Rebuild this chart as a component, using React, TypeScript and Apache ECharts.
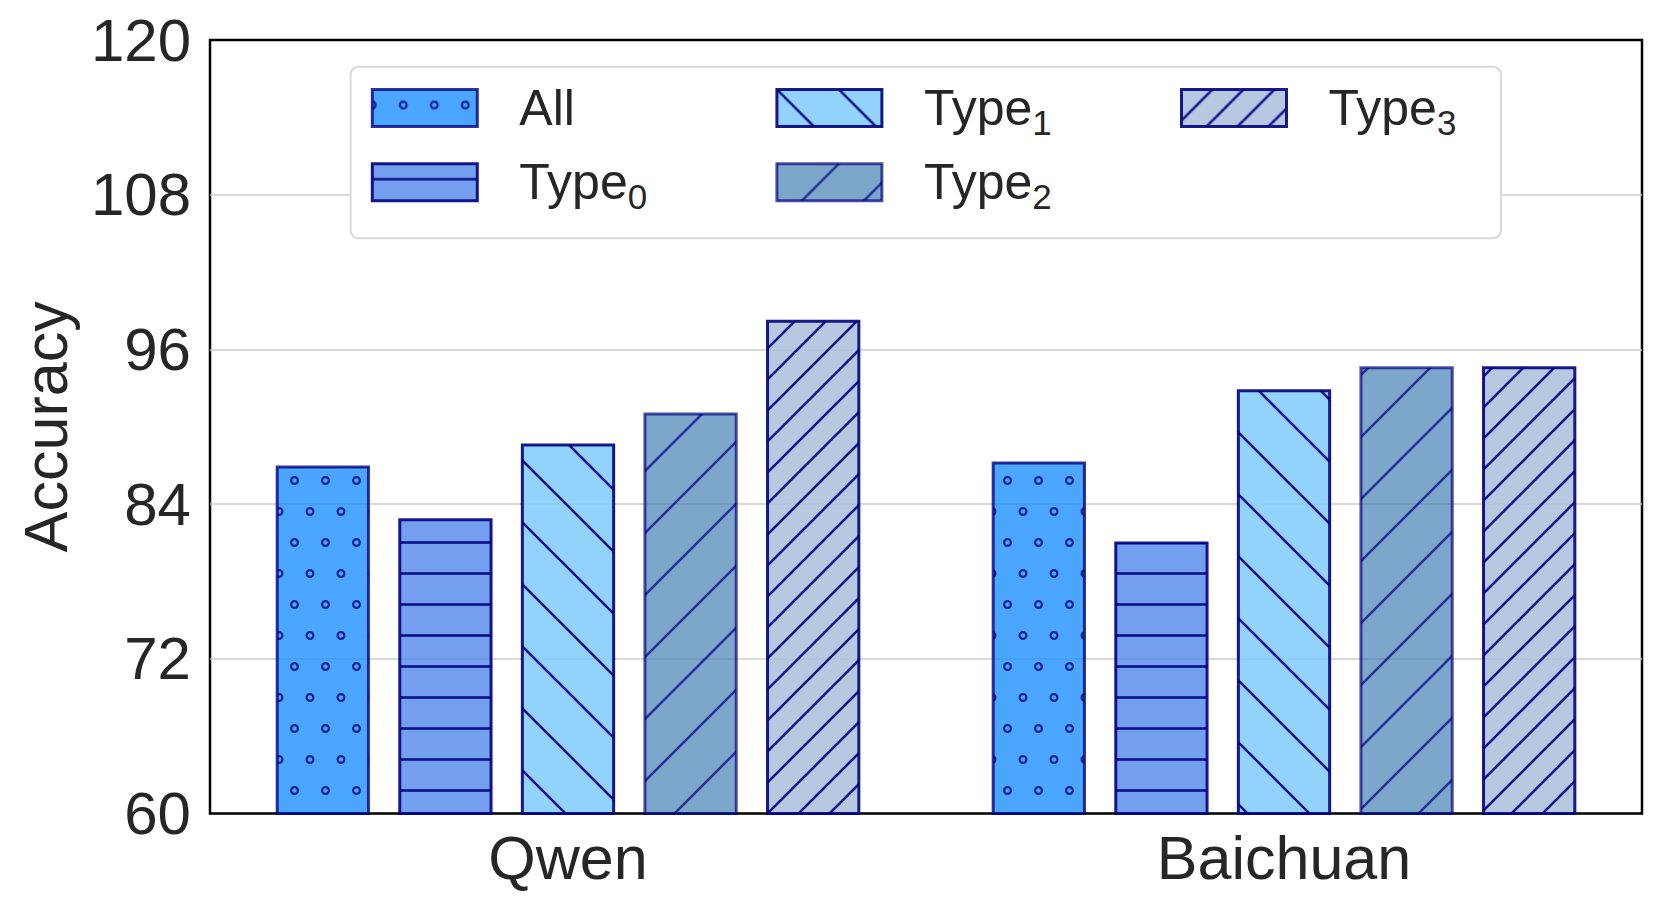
import React, { useEffect, useRef } from 'react';
import * as echarts from 'echarts';

// ---- data ----
const categories = ['Qwen', 'Baichuan'];
const seriesNames = ['All', 'Type0', 'Type1', 'Type2', 'Type3'];
const allValues = [87.0, 87.3];
const type0Values = [82.9, 81.1];
const type1Values = [88.7, 92.9];
const type2Values = [91.1, 94.7];
const type3Values = [98.3, 94.7];
const yTicks = [60, 72, 84, 96, 108, 120];

// ---- styles ----
const FONT = '"Liberation Sans", Arial, sans-serif';
const TEXT = '#262626';
const fillColors = ['#1E90FF', '#6495ED', '#87CEFA', '#4682B4', '#B0C4DE'];
const alphas = [0.8, 0.9, 0.9, 0.7, 0.9];
const hatchKinds = ['dots', 'hline', 'back', 'fwd', 'fwd2'];

function hatchPattern(kind: string, fill: string, alpha: number) {
  const sw = 2.6;
  const lineAttr = `stroke="#000080" stroke-opacity="${alpha}" stroke-width="${sw}" fill="none"`;
  let w = 31;
  let h = 31;
  let inner = '';
  const seg = (x1: number, y1: number, x2: number, y2: number) =>
    `<line x1="${x1}" y1="${y1}" x2="${x2}" y2="${y2}" ${lineAttr}/>`;
  if (kind === 'dots') {
    w = 31;
    h = 62;
    const pts = [
      [0, 15.5],
      [31, 15.5],
      [15.5, 46.5],
    ];
    inner = pts
      .map(
        ([cx, cy]) =>
          `<circle cx="${cx}" cy="${cy}" r="3.4" stroke="#000080" stroke-opacity="${alpha}" stroke-width="2.2" fill="none"/>`
      )
      .join('');
  } else if (kind === 'hline') {
    w = 31;
    h = 31;
    inner = seg(0, 15.5, 31, 15.5);
  } else {
    const s = kind === 'fwd2' ? 31 : 62;
    w = s;
    h = s;
    if (kind === 'back') {
      inner = [-s, 0, s].map((dx) => seg(dx - 1, -1, dx + s + 1, s + 1)).join('');
    } else {
      inner = [-s, 0, s].map((dx) => seg(dx - 1, s + 1, dx + s + 1, -1)).join('');
    }
  }
  const svg = `<svg xmlns="http://www.w3.org/2000/svg" width="${w}" height="${h}"><rect x="0" y="0" width="${w}" height="${h}" fill="${fill}" fill-opacity="${alpha}"/>${inner}</svg>`;
  return {
    image: 'data:image/svg+xml;charset=utf-8,' + encodeURIComponent(svg),
    repeat: 'repeat',
    imageWidth: w,
    imageHeight: h,
  } as any;
}

export default function App() {
  const ref = useRef<HTMLDivElement>(null);

  useEffect(() => {
    if (!ref.current) return;
    const chart = echarts.init(ref.current, undefined, { renderer: 'svg' });
    const values = [allValues, type0Values, type1Values, type2Values, type3Values];
    const patterns = seriesNames.map((_, i) => hatchPattern(hatchKinds[i], fillColors[i], alphas[i]));
    const edges = alphas.map((a) => `rgba(0,0,128,${a})`);

    const legendItem = (i: number) => ({
      name: seriesNames[i],
      itemStyle: { color: patterns[i], borderColor: edges[i], borderWidth: 3 },
    });

    const legendBase = {
      orient: 'vertical',
      top: 76.5,
      padding: 0,
      itemWidth: 105,
      itemHeight: 37,
      itemGap: 11.2,
      icon: 'rect',
      selectedMode: false,
      z: 5,
      formatter: (name: string) =>
        name === 'All' ? '{m|All}{s| }' : `{m|Type}{s|${name.slice(4)}}`,
      textStyle: {
        fontFamily: FONT,
        fontSize: 50,
        color: TEXT,
        padding: [0, 0, 0, 37],
        rich: {
          m: { fontFamily: FONT, fontSize: 50, lineHeight: 64, color: TEXT },
          s: { fontFamily: FONT, fontSize: 35, lineHeight: 36, padding: [28, 0, 0, 0], color: TEXT },
        },
      },
    };

    chart.setOption({
      animation: false,
      grid: {
        left: 210,
        right: 19,
        top: 40,
        bottom: 95.5,
        show: true,
        borderColor: '#000000',
        borderWidth: 2.5,
        backgroundColor: 'transparent',
        outerBoundsMode: 'none',
      },
      graphic: [
        {
          type: 'rect',
          z: 3,
          shape: { x: 350.6, y: 66.7, width: 1150.4, height: 171.6, r: 8 },
          style: { fill: '#ffffff', stroke: '#d9d9d9', lineWidth: 2 },
        },
      ],
      legend: [
        { ...legendBase, left: 370.8, data: [legendItem(0), legendItem(1)] },
        { ...legendBase, left: 775.4, data: [legendItem(2), legendItem(3)] },
        { ...legendBase, left: 1180, data: [legendItem(4)] },
      ],
      xAxis: {
        type: 'category',
        data: categories,
        axisLine: { show: false },
        axisTick: { show: false },
        splitLine: { show: false },
        axisLabel: { fontFamily: FONT, fontSize: 61, color: TEXT, margin: 14 },
      },
      yAxis: {
        type: 'value',
        min: yTicks[0],
        max: yTicks[yTicks.length - 1],
        interval: yTicks[1] - yTicks[0],
        name: 'Accuracy',
        nameLocation: 'middle',
        nameRotate: 90,
        nameGap: 134,
        nameTextStyle: { fontFamily: FONT, fontSize: 61, color: TEXT },
        axisLine: { show: false },
        axisTick: { show: false },
        splitLine: {
          show: true,
          showMinLine: false,
          showMaxLine: false,
          lineStyle: { color: '#cccccc', width: 1.5 },
        },
        axisLabel: { fontFamily: FONT, fontSize: 60, color: TEXT, margin: 19 },
      },
      series: seriesNames.map((name, i) => ({
        type: 'bar',
        name,
        data: values[i],
        barWidth: 94.3,
        barGap: '30%',
        z: 2,
        emphasis: { disabled: true },
        itemStyle: { color: patterns[i], borderColor: edges[i], borderWidth: 3 },
      })),
    });

    return () => chart.dispose();
  }, []);

  return (
    <div
      ref={ref}
      style={{ position: 'fixed', left: 0, top: 0, width: 1661, height: 909, background: '#ffffff' }}
    />
  );
}
